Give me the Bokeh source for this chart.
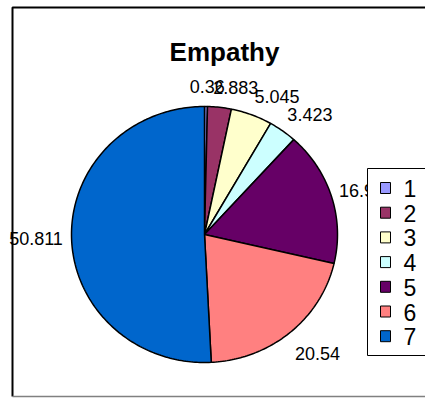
import numpy as np
from bokeh.plotting import figure
from bokeh.models import Range1d
from bokeh.core.properties import value
from bokeh.embed import file_html
from bokeh.resources import INLINE

# ---- data ----
categories = ["1", "2", "3", "4", "5", "6", "7"]
values = [0.36, 2.883, 5.045, 3.423, 16.938, 20.54, 50.811]
value_labels = ["0.36", "2.883", "5.045", "3.423", "16.938", "20.54", "50.811"]
colors = ["#9999FF", "#993366", "#FFFFCC", "#CCFFFF", "#660066", "#FF8080", "#0066CC"]
title_text = "Empathy"

# ---- layout (pixel-like data space, y grows downward) ----
W, H = 425, 398
cx, cy, rx, ry = 204.0, 234.0, 133.0, 128.0
FONT = "Liberation Sans"
label_size = 18

p = figure(width=W, height=H, output_backend="svg", toolbar_location=None,
           x_range=Range1d(0, W), y_range=Range1d(H, 0), min_border=0)
p.axis.visible = False
p.grid.visible = False
p.outline_line_color = None
p.background_fill_color = "white"
p.border_fill_color = "white"

# outer chart border
p.multi_line(xs=[[12, 12, 440], [12, 440]], ys=[[396, 7, 7], [396, 396]],
             line_color=["black", "#808080"], line_width=[2, 1.5])

# title
p.text(x=[224], y=[51], text=[title_text], text_font=value(FONT), text_font_size="26px",
       text_font_style="bold", text_align="center", text_baseline="alphabetic", text_color="black")

# pie slices (clockwise from 12 o'clock)
frac = np.array(values, dtype=float) / float(sum(values))
cum = np.concatenate([[0.0], np.cumsum(frac)]) * 2 * np.pi
xs, ys = [], []
lx, ly = [], []
for i in range(len(values)):
    t0, t1 = cum[i], cum[i + 1]
    n = max(3, int((t1 - t0) / (2 * np.pi) * 360) + 3)
    t = np.linspace(t0, t1, n)
    xs.append([cx] + list(cx + rx * np.sin(t)))
    ys.append([cy] + list(cy - ry * np.cos(t)))
    mid = 0.5 * (t0 + t1)
    dx, up = np.sin(mid), np.cos(mid)
    px, py = cx + rx * dx, cy - ry * up
    s = value_labels[i]
    w = sum(0.278 if ch == "." else 0.556 for ch in s) * label_size
    lx.append(px + dx * 8 + (w / 2) * np.clip(dx * 6, -1, 1))
    gy = 20 if up > 0 else 27
    ly.append(py - up * gy)

p.patches(xs=xs, ys=ys, fill_color=colors, line_color="black", line_width=1.5)

# data labels
p.text(x=lx, y=ly, text=value_labels, text_font=value(FONT), text_font_size=f"{label_size}px",
       text_align="center", text_baseline="middle", text_color="black")

# legend box
p.quad(left=[367], right=[440], top=[168], bottom=[355], fill_color="white", line_color="black", line_width=1)
ly0, step = 187.5, 24.7
leg_y = [ly0 + i * step for i in range(len(categories))]
p.rect(x=[385] * len(categories), y=leg_y, width=10, height=11, fill_color=colors,
       line_color="black", line_width=1)
p.text(x=[403] * len(categories), y=[v + 0.5 for v in leg_y], text=categories, text_font=value(FONT),
       text_font_size="23px", text_align="left", text_baseline="middle", text_color="black")

open("out.html", "w").write(file_html(p, INLINE))
